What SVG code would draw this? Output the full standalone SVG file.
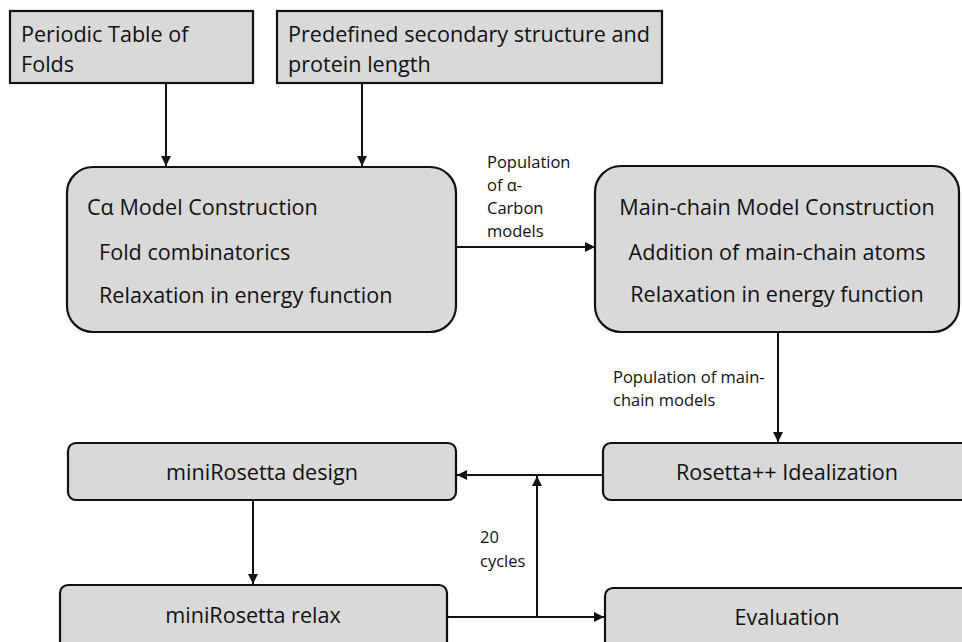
<svg xmlns="http://www.w3.org/2000/svg" width="962" height="642" viewBox="0 0 962 642">
<defs>
<style>
.box{fill:#d9d9d9;stroke:#111;stroke-width:2.2}
.t{font-family:"Open Sans","Liberation Sans",sans-serif;font-size:21.6px;fill:#111}
.c{text-anchor:middle}
.s{font-family:"Open Sans","Liberation Sans",sans-serif;font-size:16.5px;fill:#111}
.ln{stroke:#111;stroke-width:2;fill:none}
</style>
<marker id="ah" viewBox="0 0 10 10" refX="10" refY="5" markerWidth="10" markerHeight="10" markerUnits="userSpaceOnUse" orient="auto">
<path d="M0,0 L10,5 L0,10 Z" fill="#111"/>
</marker>
</defs>
<rect width="962" height="642" fill="#fff"/>
<g id="connectors">
<line class="ln" x1="166" y1="83" x2="166" y2="166" marker-end="url(#ah)"/>
<line class="ln" x1="362" y1="83" x2="362" y2="166" marker-end="url(#ah)"/>
<line class="ln" x1="456" y1="247" x2="595" y2="247" marker-end="url(#ah)"/>
<line class="ln" x1="778" y1="332" x2="778" y2="442" marker-end="url(#ah)"/>
<line class="ln" x1="603" y1="475" x2="457" y2="475" marker-end="url(#ah)"/>
<line class="ln" x1="253" y1="500" x2="253" y2="584" marker-end="url(#ah)"/>
<line class="ln" x1="447" y1="617" x2="604" y2="617" marker-end="url(#ah)"/>
<line class="ln" x1="537" y1="617" x2="537" y2="476" marker-end="url(#ah)"/>
<text class="s" x="487" y="168">Population</text>
<text class="s" x="487" y="191">of α-</text>
<text class="s" x="487" y="214">Carbon</text>
<text class="s" x="487" y="237">models</text>
<text class="s" x="613" y="383">Population of main-</text>
<text class="s" x="613" y="406">chain models</text>
<text class="s" x="480" y="543">20</text>
<text class="s" x="480" y="567">cycles</text>
</g>
<g id="periodic">
<rect class="box" x="10" y="11" width="243" height="72"/>
<text class="t" x="21" y="42">Periodic Table of</text>
<text class="t" x="21" y="72">Folds</text>
</g>
<g id="predefined">
<rect class="box" x="277" y="11" width="385" height="72"/>
<text class="t" x="288" y="42">Predefined secondary structure and</text>
<text class="t" x="288" y="72">protein length</text>
</g>
<g id="ca-model">
<rect class="box" x="67" y="167" width="389" height="165" rx="26"/>
<text class="t" x="87" y="215">Cα Model Construction</text>
<text class="t" x="99" y="260">Fold combinatorics</text>
<text class="t" x="99" y="303">Relaxation in energy function</text>
</g>
<g id="main-chain">
<rect class="box" x="595" y="166" width="364" height="166" rx="26"/>
<text class="t c" x="777" y="215">Main-chain Model Construction</text>
<text class="t c" x="777" y="260">Addition of main-chain atoms</text>
<text class="t c" x="777" y="302">Relaxation in energy function</text>
</g>
<g id="rosetta-ideal">
<rect class="box" x="603" y="443" width="370" height="57" rx="8"/>
<text class="t c" x="787" y="480">Rosetta++ Idealization</text>
</g>
<g id="design">
<rect class="box" x="68" y="443" width="388" height="57" rx="8"/>
<text class="t c" x="262" y="480">miniRosetta design</text>
</g>
<g id="relax">
<rect class="box" x="60" y="585" width="387" height="70" rx="8"/>
<text class="t c" x="253" y="623">miniRosetta relax</text>
</g>
<g id="evaluation">
<rect class="box" x="605" y="588" width="370" height="70" rx="8"/>
<text class="t c" x="787" y="625">Evaluation</text>
</g>
</svg>
